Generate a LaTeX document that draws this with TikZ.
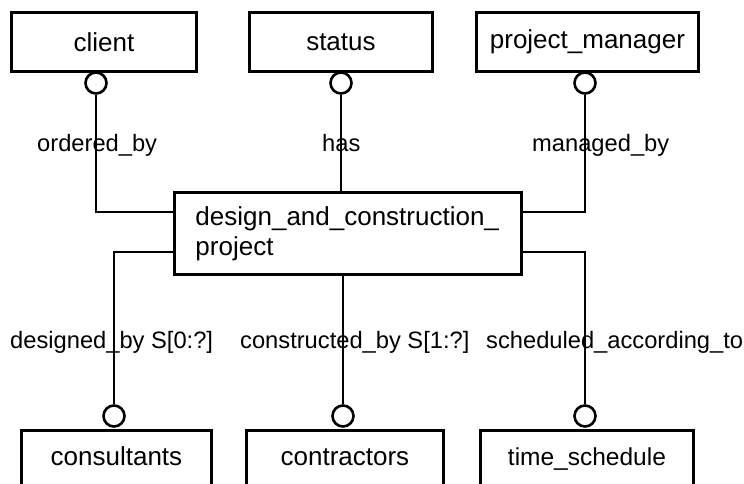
\documentclass[tikz,border=0pt]{standalone}
\usepackage{fontspec}
\setmainfont{Liberation Sans}
\begin{document}
\begin{tikzpicture}[x=1pt,y=-1pt,
  ent/.style={draw, line width=2.9pt, anchor=north west, inner sep=0pt, font=\fontsize{26}{30}\selectfont},
  entb/.style={ent, minimum height=58pt, text height=19pt, text depth=6pt},
  lab/.style={anchor=base west, inner sep=0pt, font=\fontsize{23.7}{28}\selectfont},
  conn/.style={line width=2.9pt},
  ring/.style={draw, circle, line width=2.6pt, minimum size=21pt, inner sep=0pt, fill=white}]
\clip (0,0) rectangle (744,484);
% entity boxes
\node[ent, minimum width=185pt, minimum height=59pt] (client) at (10,11) {client};
\node[ent, minimum width=183pt, minimum height=59pt] (status) at (248,11) {status};
\node[ent, minimum width=222pt, minimum height=59pt] (pm) at (475,11) {project\_manager};
\node[ent, minimum width=347pt, minimum height=82pt, align=left, text width=305pt, inner xsep=21pt] (proj) at (173,191) {design\_and\_construction\_\\project};
\node[entb, minimum width=190pt] (cons) at (20,429) {consultants};
\node[entb, minimum width=197pt] (contr) at (245,429) {contractors};
\node[entb, minimum width=213pt, font=\fontsize{24.5}{28}\selectfont] (ts) at (479,429) {time\_schedule};
% attach points on the project box
\coordinate (pjL1) at (173,212);
\coordinate (pjR1) at (520,212);
\coordinate (pjL2) at (173,252);
\coordinate (pjR2) at (520,252);
% rings
\node[ring] (r1) at (96,83) {};
\node[ring] (r2) at (341,83) {};
\node[ring] (r3) at (585,83) {};
\node[ring] (r4) at (114,416) {};
\node[ring] (r5) at (343,416) {};
\node[ring] (r6) at (585,416) {};
% connectors
\draw[conn] (r1.south) |- (pjL1);
\draw[conn] (r2.south) -- (r2.south |- proj.north);
\draw[conn] (r3.south) |- (pjR1);
\draw[conn] (pjL2) -| (r4.north);
\draw[conn] (r5.north |- proj.south) -- (r5.north);
\draw[conn] (pjR2) -| (r6.north);
% labels
\node[lab] (l1) at (37,151) {ordered\_by};
\node[lab] (l2) at (322,151) {has};
\node[lab] (l3) at (532,151) {managed\_by};
\node[lab] (l4) at (10,348) {designed\_by S[0:?]};
\node[lab] (l5) at (240,348) {constructed\_by S[1:?]};
\node[lab] (l6) at (486,348) {scheduled\_according\_to};
\end{tikzpicture}
\end{document}
